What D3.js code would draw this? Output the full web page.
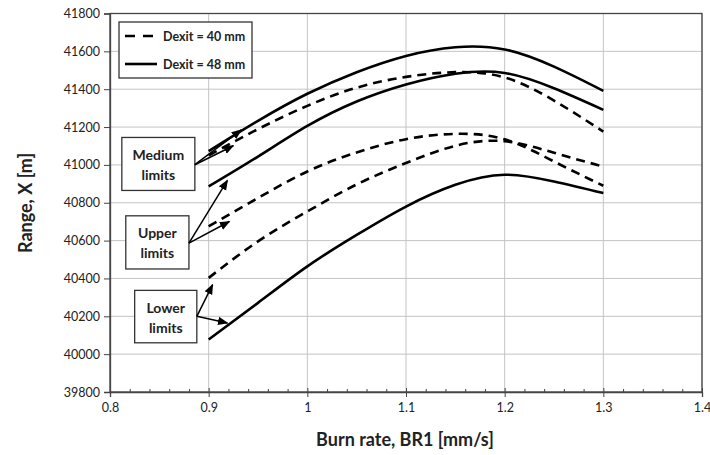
<!DOCTYPE html>
<html>
<head>
<meta charset="utf-8">
<script src="https://cdn.jsdelivr.net/npm/d3@7"></script>
<style>
  body { margin: 0; background: #fff; }
  text { font-family: Lato, "Open Sans", sans-serif; fill: #222; }
</style>
</head>
<body>
<div id="chart"></div>
<script>
// burn rate values (x) shared by all series
var burnRate = [0.9, 0.95, 1.0, 1.05, 1.1, 1.15, 1.2, 1.25, 1.3];
// Dexit = 48 mm (solid)
var d48Medium = [41073, 41233, 41376, 41490, 41576, 41622, 41610, 41519, 41391];
var d48Upper  = [40886, 41044, 41206, 41335, 41425, 41482, 41486, 41405, 41291];
var d48Lower  = [40077, 40271, 40464, 40630, 40780, 40895, 40948, 40912, 40851];
// Dexit = 40 mm (dashed)
var d40Medium = [41050, 41189, 41312, 41408, 41465, 41490, 41462, 41340, 41176];
var d40Upper  = [40675, 40825, 40965, 41066, 41136, 41164, 41135, 41018, 40890];
var d40Lower  = [40403, 40596, 40754, 40897, 41010, 41101, 41125, 41064, 40991];

var xTicks = [0.8, 0.9, 1.0, 1.1, 1.2, 1.3, 1.4];
var yTicks = [39800, 40000, 40200, 40400, 40600, 40800, 41000, 41200, 41400, 41600, 41800];

var legendLabels = ["Dexit = 40 mm", "Dexit = 48 mm"];

// annotation boxes (data coords) and arrow tips
var notes = [
  {lines: ["Medium", "limits"], box: [0.812, 0.886, 41145, 40865], from: [0.886, 41001], tips: [[0.933, 41185], [0.925, 41101]]},
  {lines: ["Upper", "limits"],  box: [0.816, 0.880, 40731, 40450], from: [0.880, 40587], tips: [[0.919, 40918], [0.921, 40701]]},
  {lines: ["Lower", "limits"],  box: [0.825, 0.888, 40337, 40060], from: [0.888, 40200], tips: [[0.904, 40367], [0.919, 40165]]}
];

var width = 710, height = 455;
var svg = d3.select("#chart").append("svg").attr("width", width).attr("height", height);

var x = d3.scaleLinear().domain([0.8, 1.4]).range([110, 702]);
var y = d3.scaleLinear().domain([39800, 41800]).range([392, 13.5]);

// gridlines
svg.append("g").selectAll("line").data(xTicks.slice(1)).enter().append("line")
    .attr("x1", d => x(d)).attr("x2", d => x(d)).attr("y1", y(39800)).attr("y2", y(41800))
    .attr("stroke", "#c4c4c4").attr("stroke-width", 1);
svg.append("g").selectAll("line").data(yTicks.slice(1)).enter().append("line")
    .attr("x1", x(0.8)).attr("x2", x(1.4)).attr("y1", d => y(d)).attr("y2", d => y(d))
    .attr("stroke", "#c4c4c4").attr("stroke-width", 1);

// frame top/right
svg.append("rect").attr("x", x(0.8)).attr("y", y(41800))
    .attr("width", x(1.4) - x(0.8)).attr("height", y(39800) - y(41800))
    .attr("fill", "none").attr("stroke", "#444").attr("stroke-width", 1.3);

// axes
var xAxis = svg.append("g").attr("transform", "translate(0," + y(39800) + ")")
    .call(d3.axisBottom(x).tickValues(xTicks).tickFormat(d3.format("")).tickSize(5).tickPadding(6));
var xMinor = svg.append("g").attr("transform", "translate(0," + y(39800) + ")")
    .call(d3.axisTop(x).tickValues(d3.range(0.82, 1.4, 0.02).filter(d => Math.abs(d * 10 - Math.round(d * 10)) > 0.01)).tickSize(3).tickFormat(""));
xMinor.select(".domain").remove();
var majUp = svg.append("g").attr("transform", "translate(0," + y(39800) + ")")
    .call(d3.axisTop(x).tickValues(xTicks).tickSize(4).tickFormat(""));
majUp.select(".domain").remove();

var yAxis = svg.append("g").attr("transform", "translate(" + x(0.8) + ",0)")
    .call(d3.axisLeft(y).tickValues(yTicks).tickFormat(d3.format("d")).tickSize(6).tickPadding(4));

[xAxis, yAxis, xMinor, majUp].forEach(function (g) {
    g.selectAll("line").attr("stroke", "#444");
    g.select(".domain").attr("stroke", "#444").attr("stroke-width", 1.3);
});
xAxis.selectAll("text").style("font-size", "12.5px").style("font-family", "Lato, sans-serif").attr("fill", "#222");
yAxis.selectAll("text").style("font-size", "12.5px").style("font-family", "Lato, sans-serif").attr("fill", "#222");

// axis titles
svg.append("text").attr("x", 405).attr("y", 446).attr("text-anchor", "middle")
    .style("font-size", "18px").style("font-weight", "bold").text("Burn rate, BR1 [mm/s]");
svg.append("text").attr("transform", "translate(32,203) rotate(-90)").attr("text-anchor", "middle")
    .style("font-size", "18px").style("font-weight", "bold").text("Range, X [m]");

// curves
var line = d3.line().x(d => x(d[0])).y(d => y(d[1])).curve(d3.curveNatural);
function pairs(vals) { return burnRate.map(function (b, i) { return [b, vals[i]]; }); }

var series = [
    {v: d48Medium, dash: null}, {v: d48Upper, dash: null}, {v: d48Lower, dash: null},
    {v: d40Medium, dash: "9,6"}, {v: d40Upper, dash: "9,6"}, {v: d40Lower, dash: "9,6"}
];
series.forEach(function (s) {
    svg.append("path").datum(pairs(s.v)).attr("d", line)
        .attr("fill", "none").attr("stroke", "#000").attr("stroke-width", 2.6)
        .attr("stroke-dasharray", s.dash);
});

// arrows
svg.append("defs").append("marker").attr("id", "arrow")
    .attr("viewBox", "0 0 10 10").attr("refX", 9).attr("refY", 5)
    .attr("markerWidth", 7).attr("markerHeight", 7).attr("orient", "auto")
    .append("path").attr("d", "M0,1 L10,5 L0,9 z").attr("fill", "#000");

notes.forEach(function (n) {
    var b = n.box;
    svg.append("rect").attr("x", x(b[0])).attr("y", y(b[2]))
        .attr("width", x(b[1]) - x(b[0])).attr("height", y(b[3]) - y(b[2]))
        .attr("fill", "#fff").attr("stroke", "#333").attr("stroke-width", 1.3);
    var cx = (x(b[0]) + x(b[1])) / 2, cy = (y(b[2]) + y(b[3])) / 2;
    n.lines.forEach(function (t, i) {
        svg.append("text").attr("x", cx).attr("y", cy - 4 + i * 20).attr("text-anchor", "middle")
            .style("font-size", "14px").style("font-weight", "bold").text(t);
    });
    n.tips.forEach(function (t) {
        svg.append("line").attr("x1", x(n.from[0])).attr("y1", y(n.from[1]))
            .attr("x2", x(t[0])).attr("y2", y(t[1]))
            .attr("stroke", "#000").attr("stroke-width", 1.5).attr("marker-end", "url(#arrow)");
    });
});

// legend
var lg = svg.append("g").attr("transform", "translate(119,22)");
lg.append("rect").attr("width", 133).attr("height", 56).attr("fill", "#fff")
    .attr("stroke", "#333").attr("stroke-width", 1.3);
legendLabels.forEach(function (t, i) {
    var ly = 14 + i * 28;
    lg.append("line").attr("x1", 6).attr("x2", 38).attr("y1", ly).attr("y2", ly)
        .attr("stroke", "#000").attr("stroke-width", 2.6)
        .attr("stroke-dasharray", i === 0 ? "10,8" : null);
    lg.append("text").attr("x", 44).attr("y", ly + 4.5)
        .style("font-size", "12.5px").style("font-weight", "bold").text(t);
});
</script>
</body>
</html>
